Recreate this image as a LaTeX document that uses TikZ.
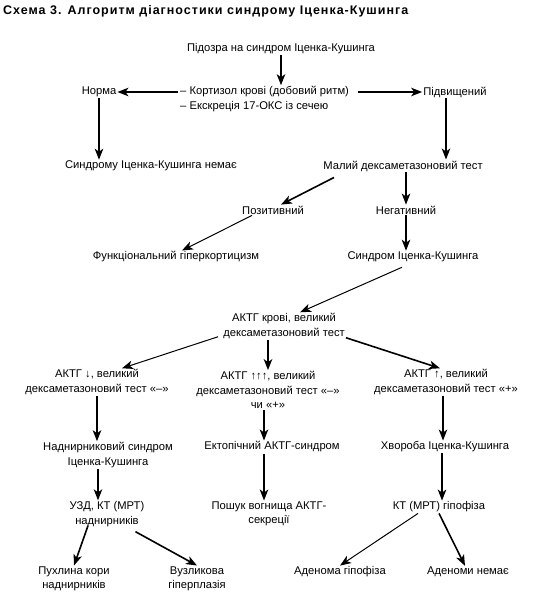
\documentclass[tikz,border=0pt]{standalone}
\usepackage{fontspec}
\setmainfont{Liberation Sans}
\usetikzlibrary{arrows.meta}
\tikzset{
  txt/.style={inner sep=1pt, font=\fontsize{11.2}{14.5}\selectfont, align=center},
  arr/.style={line width=1.6pt, -{Stealth[length=11pt,width=8.5pt,inset=3pt]}},
  arrt/.style={line width=1pt, -{Stealth[length=11pt,width=8.5pt,inset=3pt]}},
}
\begin{document}
\begin{tikzpicture}[x=1pt,y=-1pt]
\useasboundingbox (0,0) rectangle (546,593);
\node[anchor=west, inner sep=0pt, font=\fontsize{12.5}{14}\selectfont\bfseries\addfontfeature{LetterSpace=8}] (title) at (3,11) {Схема 3. Алгоритм діагностики синдрому Іценка-Кушинга};
\node[txt] (pod) at (281,49) {Підозра на синдром Іценка-Кушинга};
\node[txt, anchor=west, align=left] (kort) at (179,99) {– Кортизол крові (добовий ритм)\\– Екскреція 17-ОКС із сечею};
\node[txt] (norma) at (99,92) {Норма};
\node[txt] (pidv) at (455,92) {Підвищений};
\node[txt] (nemae) at (151,166) {Синдрому Іценка-Кушинга немає};
\node[txt] (malyi) at (403,166) {Малий дексаметазоновий тест};
\node[txt] (pozyt) at (273,210) {Позитивний};
\node[txt] (neg) at (406,210) {Негативний};
\node[txt] (funk) at (176,257) {Функціональний гіперкортицизм};
\node[txt] (sindr) at (413,257) {Синдром Іценка-Кушинга};
\node[txt] (aktg) at (284,326) {АКТГ крові, великий\\дексаметазоновий тест};
\node[txt] (left) at (97,382) {АКТГ ↓, великий\\дексаметазоновий тест «–»};
\node[txt] (mid) at (268,390) {АКТГ ↑↑↑, великий\\дексаметазоновий тест «–»\\чи «+»};
\node[txt] (right) at (446,382) {АКТГ ↑, великий\\дексаметазоновий тест «+»};
\node[txt] (nadn) at (108,455) {Наднирниковий синдром\\Іценка-Кушинга};
\node[txt] (ekt) at (272,447) {Ектопічний АКТГ-синдром};
\node[txt] (hvor) at (445,447) {Хвороба Іценка-Кушинга};
\node[txt] (uzd) at (107,514) {УЗД, КТ (МРТ)\\наднирників};
\node[txt] (posh) at (269,514) {Пошук вогнища АКТГ-\\секреції};
\node[txt] (ktg) at (439,507) {КТ (МРТ) гіпофіза};
\node[txt] (puhl) at (74,579) {Пухлина кори\\наднирників};
\node[txt] (vuzl) at (197,579) {Вузликова\\гіперплазія};
\node[txt] (aden) at (340,572) {Аденома гіпофіза};
\node[txt] (nema2) at (468,572) {Аденоми немає};

\draw[arr] (pod) -- (pod |- kort.north);
\draw[arr] ([xshift=-1pt]kort.west |- norma) -- (norma);
\draw[arr] ([xshift=8pt]kort.east |- pidv) -- (pidv);
\draw[arr] (norma) -- (norma |- nemae.north);
\draw[arr] ([xshift=-9pt]pidv.south) -- ([xshift=-9pt]pidv.south |- malyi.north);
\draw[arr] ([xshift=-69pt,yshift=-5pt]malyi.south) -- ([xshift=8pt]pozyt.north);
\draw[arr] (malyi.south -| neg.north) -- (neg.north);
\draw[arrt] ([xshift=-21pt]pozyt.south) -- ([xshift=6pt]funk.north);
\draw[arr] (neg) -- (neg |- sindr.north);
\draw[arrt] ([xshift=-11pt,yshift=-4pt]sindr.south) -- ([xshift=16pt]aktg.north);
\draw[arrt] ([xshift=-4pt,yshift=3pt]aktg.south west) -- ([xshift=25pt]left.north);
\draw[arr] (mid.north |- aktg.south) -- (mid.north);
\draw[arr] ([yshift=2pt]aktg.south east) -- ([xshift=-6pt]right.north);
\draw[arr] (left.south) -- (left.south |- nadn.north);
\draw[arr] ([xshift=-4pt]mid.south) -- ([xshift=-4pt]mid.south |- ekt.north);
\draw[arr] ([xshift=-3pt]right.south) -- ([xshift=-3pt]right.south |- hvor.north);
\draw[arr] ([xshift=-10pt]nadn.south) -- ([xshift=-10pt]nadn.south |- uzd.north);
\draw[arr] ([xshift=-8pt]ekt.south) -- ([xshift=-8pt]ekt.south |- posh.north);
\draw[arr] ([xshift=-3pt]hvor.south) -- ([xshift=-3pt]hvor.south |- ktg.north);
\draw[arr] ([xshift=-19pt,yshift=2pt]uzd.south) -- (puhl.north);
\draw[arr] ([xshift=-10pt,yshift=-4pt]uzd.south east) -- (vuzl.north);
\draw[arrt] ([xshift=-21pt]ktg.south) -- (aden.north);
\draw[arr] (ktg.south) -- ([xshift=-3pt]nema2.north);
\end{tikzpicture}
\end{document}
